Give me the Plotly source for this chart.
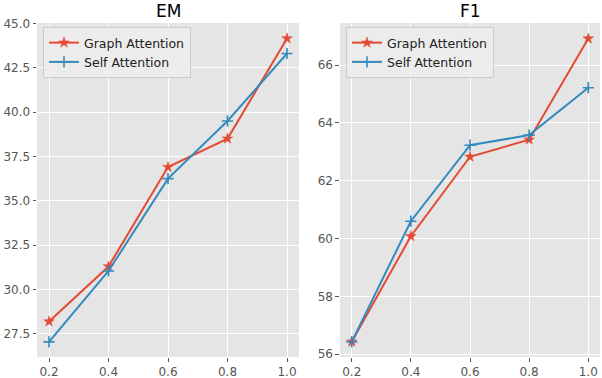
import plotly.graph_objects as go

x_vals = [0.2, 0.4, 0.6, 0.8, 1.0]
em_graph = [28.2, 31.3, 36.9, 38.5, 44.15]
em_self = [27.05, 31.05, 36.25, 39.5, 43.3]
f1_graph = [56.43, 60.08, 62.83, 63.42, 66.92]
f1_self = [56.42, 60.6, 63.23, 63.58, 65.22]
x_ticks = [0.2, 0.4, 0.6, 0.8, 1.0]
x_ticktext = ["0.2", "0.4", "0.6", "0.8", "1.0"]
em_ticks = [27.5, 30.0, 32.5, 35.0, 37.5, 40.0, 42.5, 45.0]
f1_ticks = [56, 58, 60, 62, 64, 66]

RED = "#E24A33"
BLUE = "#348ABD"
W, H = 602, 378

fig = go.Figure()

def add(x, y, name, color, symbol, xa, ya, legend, msize, mline):
    fig.add_trace(go.Scatter(
        x=x, y=y, name=name, mode="lines+markers",
        line=dict(color=color, width=2),
        marker=dict(symbol=symbol, size=msize, color=color,
                    line=dict(color=color, width=mline)),
        xaxis=xa, yaxis=ya, legend=legend, showlegend=True))

add(x_vals, em_graph, "Graph Attention", RED, "star", "x", "y", "legend", 8, 0.5)
add(x_vals, em_self, "Self Attention", BLUE, "cross-thin", "x", "y", "legend", 8, 1.6)
add(x_vals, f1_graph, "Graph Attention", RED, "star", "x2", "y2", "legend2", 8, 0.5)
add(x_vals, f1_self, "Self Attention", BLUE, "cross-thin", "x2", "y2", "legend2", 8, 1.6)

y0 = 1 - 357 / H
y1 = 1 - 23 / H
axis_common = dict(showgrid=True, gridcolor="white", gridwidth=1, zeroline=False,
                   ticks="outside", ticklen=3.5, tickwidth=1, tickcolor="#555555",
                   tickfont=dict(family="DejaVu Sans", size=12, color="#555555"),
                   showline=False, automargin=False)

legend_common = dict(xanchor="left", yanchor="top",
                     bgcolor="rgba(236,236,236,0.9)", bordercolor="#CCCCCC", borderwidth=1,
                     font=dict(family="DejaVu Sans", size=12.5, color="#222222"),
                     tracegroupgap=0, itemwidth=30)

fig.update_layout(
    width=W, height=H,
    margin=dict(l=0, r=0, t=0, b=0, autoexpand=False),
    paper_bgcolor="white",
    plot_bgcolor="#E5E5E5",
    font=dict(family="DejaVu Sans", size=12, color="#222222"),
    xaxis=dict(domain=[37.1 / W, 298.9 / W], range=[0.16, 1.04], anchor="y",
               tickvals=x_ticks, ticktext=x_ticktext, **axis_common),
    yaxis=dict(domain=[y0, y1], range=[26.2, 45.02], anchor="x",
               tickvals=em_ticks, tickformat=".1f", **axis_common),
    xaxis2=dict(domain=[339.9 / W, 600.1 / W], range=[0.16, 1.04], anchor="y2",
                tickvals=x_ticks, ticktext=x_ticktext, **axis_common),
    yaxis2=dict(domain=[y0, y1], range=[55.9, 67.46], anchor="x2",
                tickvals=f1_ticks, **axis_common),
    legend=dict(x=43 / W, y=1 - 27 / H, **legend_common),
    legend2=dict(x=346 / W, y=1 - 27 / H, **legend_common),
    annotations=[
        dict(text="EM", x=(37.1 + 298.9) / 2 / W, y=1 - 10.5 / H, xref="paper", yref="paper",
             showarrow=False, font=dict(family="DejaVu Sans", size=17, color="black"),
             xanchor="center", yanchor="middle"),
        dict(text="F1", x=(339.9 + 600.1) / 2 / W, y=1 - 10.5 / H, xref="paper", yref="paper",
             showarrow=False, font=dict(family="DejaVu Sans", size=17, color="black"),
             xanchor="center", yanchor="middle"),
    ],
)

fig.write_html("out.html", config={"displayModeBar": False},
               post_script="document.body.style.margin='0px';document.body.style.overflow='hidden';")
